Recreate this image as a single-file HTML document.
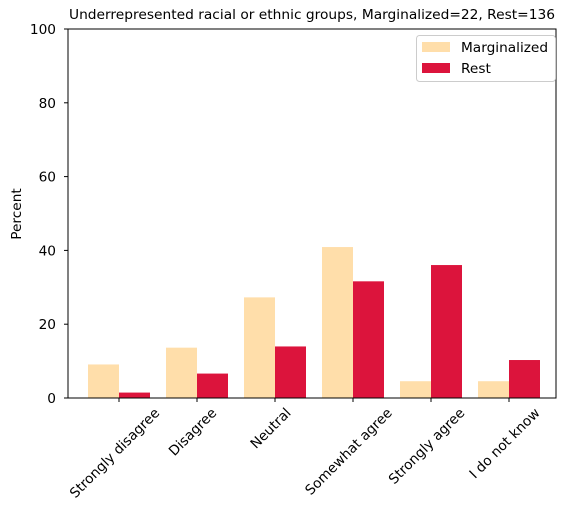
<!DOCTYPE html>
<html><head><meta charset="utf-8"><style>
body{margin:0;background:#fff;width:571px;height:514px;overflow:hidden}
text{font-family:"DejaVu Sans","Liberation Sans",sans-serif;fill:#000}
</style></head><body>
<svg id="chart" width="571" height="514">
<rect x="0" y="0" width="571" height="514" fill="#fff"/>
<g id="bars"></g>
<g id="axes"></g>
<text x="69" y="19" font-size="13.3" textLength="486" lengthAdjust="spacingAndGlyphs">Underrepresented racial or ethnic groups, Marginalized=22, Rest=136</text>
<text transform="translate(21,214) rotate(-90)" font-size="13.7" text-anchor="middle">Percent</text>
<g>
<rect x="416.5" y="35.5" width="139" height="46" rx="3" fill="#fff" stroke="#ccc"/>
<rect x="422" y="42" width="28" height="10" fill="#ffdeaa"/>
<text x="461" y="52" font-size="13.7">Marginalized</text>
<rect x="422" y="63" width="28" height="10" fill="#dc143c"/>
<text x="461" y="73" font-size="13.7">Rest</text>
</g>
</svg>
<script>
const categories=["Strongly disagree","Disagree","Neutral","Somewhat agree","Strongly agree","I do not know"];
const marginalized=[9.09,13.64,27.27,40.91,4.55,4.55];
const rest=[1.47,6.62,13.97,31.62,36.03,10.29];
const yTicks=[0,20,40,60,80,100];
const NS="http://www.w3.org/2000/svg";
const L=68,R=556,T=29,B=398;
const y=v=>B-(v/100)*(B-T);
const x=i=>119+78*i;
const bw=31;
function mk(t,a,p){const e=document.createElementNS(NS,t);for(const k in a)e.setAttribute(k,a[k]);p.appendChild(e);return e;}
const bars=document.getElementById('bars'),axes=document.getElementById('axes');
categories.forEach((c,i)=>{
 let b=mk('rect',{x:x(i)-bw,y:y(marginalized[i]),width:bw,height:B-y(marginalized[i]),fill:'#ffdeaa'},bars);
 
 
 let r=mk('rect',{x:x(i),y:y(rest[i]),width:bw,height:B-y(rest[i]),fill:'#dc143c'},bars);
 
 
 mk('line',{x1:x(i),x2:x(i),y1:B,y2:B+4,stroke:'#000'},axes);
 let t=mk('text',{x:0,y:0,'font-size':13.7,'text-anchor':'middle','dominant-baseline':'central'},axes);
 t.textContent=c;
 
 
 const w=t.getComputedTextLength(),h=13.7;
 const half=(w+h)*0.7071/2;
 t.setAttribute('transform',`translate(${x(i)-4},${B+8+half}) rotate(-45)`);
});
yTicks.forEach(v=>{
 mk('line',{x1:L-4,x2:L,y1:y(v),y2:y(v),stroke:'#000'},axes);
 let t=mk('text',{x:L-12,y:y(v)+5,'font-size':13.7,'text-anchor':'end'},axes);
 t.textContent=v;
 
 
});
let f=mk('rect',{x:L,y:T,width:R-L,height:B-T,fill:'none',stroke:'#000'},axes);


</script>
</body></html>
